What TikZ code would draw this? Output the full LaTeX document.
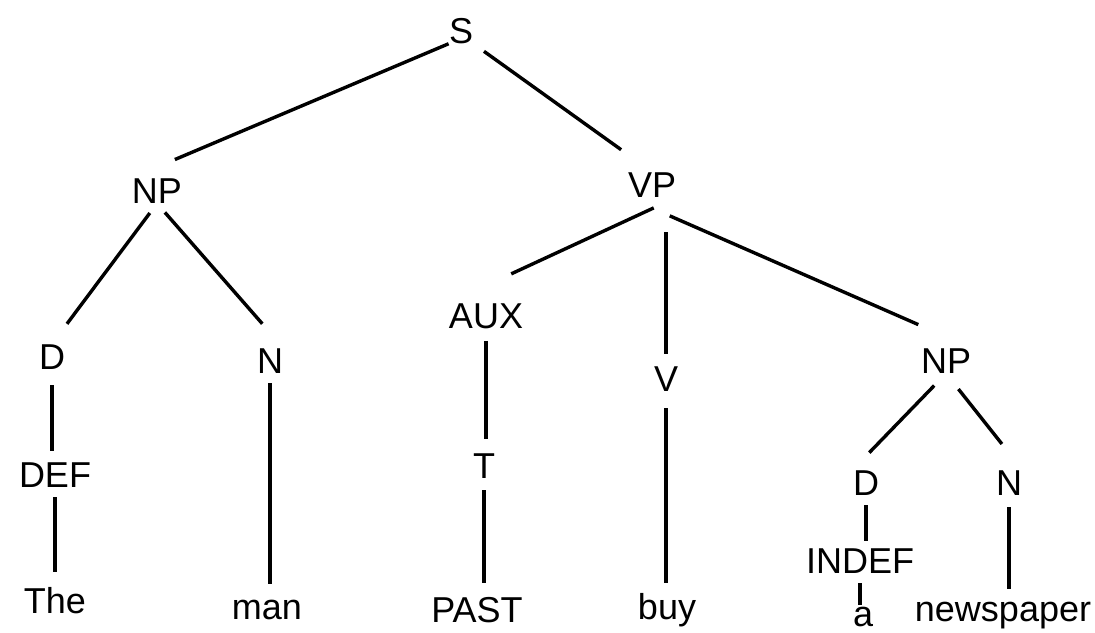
\documentclass[tikz,border=0pt]{standalone}
\usepackage{fontspec}
\setmainfont{Liberation Sans}

\begin{document}
\begin{tikzpicture}[x=0.5pt, y=-0.5pt,
    cat/.style={anchor=base, inner sep=0pt, font=\fontsize{18}{20}\selectfont},
    branch/.style={line width=1.7pt}]
    \useasboundingbox (0,0) rectangle (1095,632);

    \begin{scope} % Categories
        \node[cat] (S) at (461,43) {S};
        \node[cat] (NP1) at (157,203) {NP};
        \node[cat] (VP) at (652,197) {VP};
        \node[cat] (D1) at (52,369) {D};
        \node[cat] (N1) at (270,373) {N};
        \node[cat] (AUX) at (486,328) {AUX};
        \node[cat] (V) at (666,391) {V};
        \node[cat] (NP2) at (946,373) {NP};
        \node[cat] (DEF) at (55,487) {DEF};
        \node[cat] (T) at (484,478) {T};
        \node[cat] (D2) at (866,495) {D};
        \node[cat] (N2) at (1009,495) {N};
        \node[cat] (INDEF) at (860,573) {INDEF};
    \end{scope}

    \begin{scope} % Words
        \node[cat] (the) at (55,613) {The};
        \node[cat] (man) at (267,619) {man};
        \node[cat] (past) at (477,622) {PAST};
        \node[cat] (buy) at (667,619) {buy};
        \node[cat] (a) at (863,626) {a};
        \node[cat] (paper) at (1003,621) {newspaper};
    \end{scope}

    % diagonal branches
    \draw[branch, shorten >=23.5pt] (S.south west) -- (NP1.north west);
    \draw[branch, shorten <=6.5pt, shorten >=19pt] (S.south east) -- (VP.north);
    \draw[branch, shorten <=6pt, shorten >=12.5pt] (NP1.south) -- (D1.north);
    \draw[branch, shorten <=6pt, shorten >=16pt] (NP1.south) -- (N1.north east);
    \draw[branch, shorten <=12.5pt, shorten >=34.5pt] (VP.south east) -- (AUX.north west);
    \draw[branch, shorten <=23pt, shorten >=29pt] (VP.south west) -- (NP2.north east);
    \draw[branch, shorten <=8.5pt, shorten >=12pt] (NP2.south) -- (D2.north west);
    \draw[branch, shorten <=10pt, shorten >=16.5pt] (NP2.south) -- (N2.north east);

    % vertical branches
    \draw[branch, shorten <=6pt, shorten >=17.5pt] (V.north) -- (V.north |- VP.south);
    \draw[branch, shorten <=8pt, shorten >=5.5pt] (D1.south) -- (D1.south |- DEF.north);
    \draw[branch, shorten <=5pt, shorten >=7.5pt] (DEF.south) -- (DEF.south |- the.north);
    \draw[branch, shorten <=5pt, shorten >=7.5pt] (N1.south) -- (N1.south |- man.north);
    \draw[branch, shorten <=6pt, shorten >=7pt] (AUX.south) -- (AUX.south |- T.north);
    \draw[branch, shorten <=6pt, shorten >=6.5pt] (T.south) -- (T.south |- past.north);
    \draw[branch, shorten <=8.5pt, shorten >=5pt] (V.south) -- (V.south |- buy.north);
    \draw[branch, shorten <=5pt, shorten >=3.5pt] (D2.south) -- (D2.south |- INDEF.north);
    \draw[branch, shorten <=5pt, shorten >=0.5pt] (INDEF.south) -- (INDEF.south |- a.north);
    \draw[branch, shorten <=6pt, shorten >=6pt] (N2.south) -- (N2.south |- paper.north);
\end{tikzpicture}
\end{document}
